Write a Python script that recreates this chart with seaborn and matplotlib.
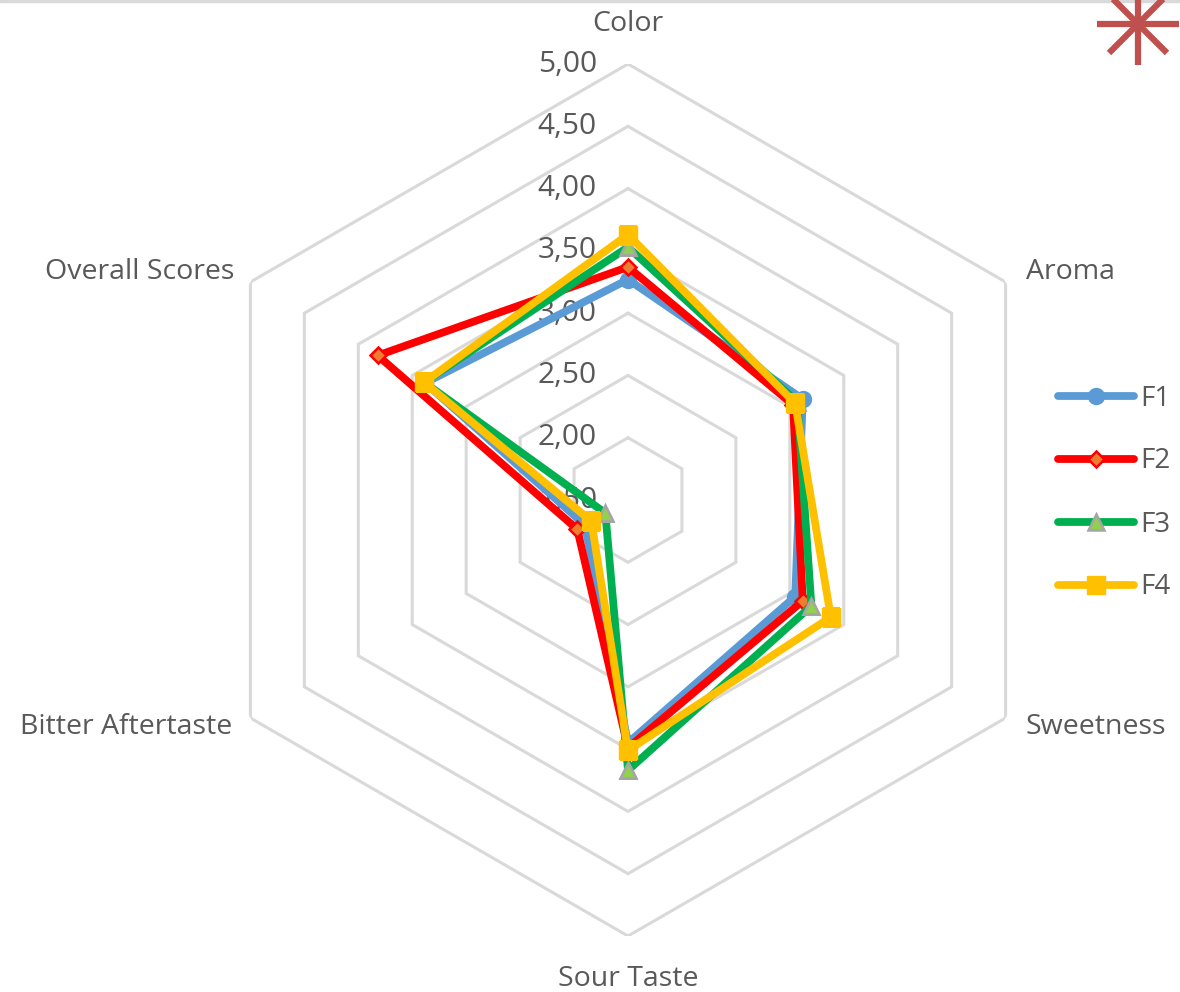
import numpy as np
import pandas as pd
import matplotlib
matplotlib.use("Agg")
import matplotlib.pyplot as plt
from matplotlib.lines import Line2D
import seaborn as sns

# Sensory attributes (clockwise from the top) and panel scores per formulation
categories = ["Color", "Aroma", "Sweetness", "Sour Taste", "Bitter Aftertaste", "Overall Scores"]
f1 = [3.27, 3.12, 3.05, 3.45, 1.90, 3.38]
f2 = [3.37, 3.03, 3.12, 3.49, 1.97, 3.82]
f3 = [3.53, 3.07, 3.20, 3.67, 1.71, 3.39]
f4 = [3.63, 3.05, 3.38, 3.51, 1.84, 3.39]
series_names = ["F1", "F2", "F3", "F4"]
tick_values = [1.5, 2.0, 2.5, 3.0, 3.5, 4.0, 4.5, 5.0]
tick_labels = ["1,50", "2,00", "2,50", "3,00", "3,50", "4,00", "4,50", "5,00"]

sns.set_style("white")
plt.rcParams["font.family"] = ["Open Sans", "DejaVu Sans"]

n = len(categories)
angles = np.linspace(0, 2 * np.pi, n, endpoint=False)

rows = []
for name, vals in zip(series_names, [f1, f2, f3, f4]):
    for i, (a, v) in enumerate(zip(list(angles) + [angles[0] + 2 * np.pi], vals + [vals[0]])):
        rows.append({"series": name, "order": i, "theta": a, "score": v})
df = pd.DataFrame(rows)

W, H = 1180, 992
fig = plt.figure(figsize=(W / 100, H / 100), dpi=100)
cx, cy, R = 628, 500, 436
ax = fig.add_axes([(cx - R) / W, (H - cy - R) / H, 2 * R / W, 2 * R / H], projection="polar")
ax.set_theta_offset(np.pi / 2)
ax.set_theta_direction(-1)
ax.set_ylim(1.5, 5.0)
ax.grid(False)
ax.spines["polar"].set_visible(False)
ax.set_xticks([])
ax.set_yticks([])
ax.set_facecolor("none")

# hexagonal rings
ring_theta = list(angles) + [angles[0]]
for r in tick_values[1:]:
    ax.plot(ring_theta, [r] * (n + 1), color="#D9D9D9", lw=2.2, zorder=1, solid_joinstyle="miter")

line_colors = {"F1": "#5B9BD5", "F2": "#FF0000", "F3": "#00B050", "F4": "#FFC000"}
LW = 5.6
sns.lineplot(data=df, x="theta", y="score", hue="series", units="series", estimator=None,
             sort=False, palette=line_colors, lw=LW, legend=False, ax=ax, zorder=3)
series_lines = ax.lines[-4:]
for k, ln in enumerate(series_lines):
    ln.set_solid_joinstyle("round")
    ln.set_zorder(3.05 + k * 0.1)

marker_style = {
    "F1": dict(marker="o", ms=11, mfc="#5B9BD5", mec="#5B9BD5", mew=1.5),
    "F2": dict(marker="D", ms=8.5, mfc="#ED7D31", mec="#FF0000", mew=1.8),
    "F3": dict(marker="^", ms=12, mfc="#92D050", mec="#A5A5A5", mew=1.8),
    "F4": dict(marker="s", ms=12.5, mfc="#FFC000", mec="#FFC000", mew=1.0),
}
for k, (name, vals) in enumerate(zip(series_names, [f1, f2, f3, f4])):
    ax.plot(angles, vals, ls="none", zorder=3.1 + k * 0.1, **marker_style[name])

text_color = "#595959"
for v, lab in zip(tick_values, tick_labels):
    ax.annotate(lab, xy=(0, v), xytext=(-31, 0), textcoords="offset pixels",
                ha="right", va="center", fontsize=21.5, color=text_color, zorder=2)

label_pos = [
    ((0, 40), "center", "center"),
    ((20, 10), "left", "center"),
    ((20, -9), "left", "center"),
    ((0, -43), "center", "center"),
    ((-18, -9), "right", "center"),
    ((-16, 10), "right", "center"),
]
for a, lab, (off, ha, va) in zip(angles, categories, label_pos):
    ax.annotate(lab, xy=(a, 5.0), xytext=off, textcoords="offset pixels",
                ha=ha, va=va, fontsize=20.5, color=text_color)

handles = [Line2D([0], [0], color=line_colors[s], lw=LW, solid_capstyle="round",
                  **marker_style[s]) for s in series_names]
fig.legend(handles, series_names, loc="center left", bbox_to_anchor=(1058 / W, 1 - 493 / H),
           frameon=False, fontsize=20, labelcolor=text_color, handlelength=2.75,
           handletextpad=0.2, labelspacing=1.26, borderpad=0, borderaxespad=0)

# top frame edge and corner asterisk
fig.add_artist(Line2D([0, 1], [1 - 1 / H, 1 - 1 / H], transform=fig.transFigure,
                      color="#D9D9D9", lw=2.5))
sx, sy, sr = 1138, 24, 41
for ang in np.arange(0, np.pi, np.pi / 4):
    dx, dy = sr * np.cos(ang), sr * np.sin(ang)
    fig.add_artist(Line2D([(sx - dx) / W, (sx + dx) / W], [1 - (sy - dy) / H, 1 - (sy + dy) / H],
                          transform=fig.transFigure, color="#C0504D", lw=4.5,
                          solid_capstyle="butt"))

fig.savefig("out.png", dpi=100)
